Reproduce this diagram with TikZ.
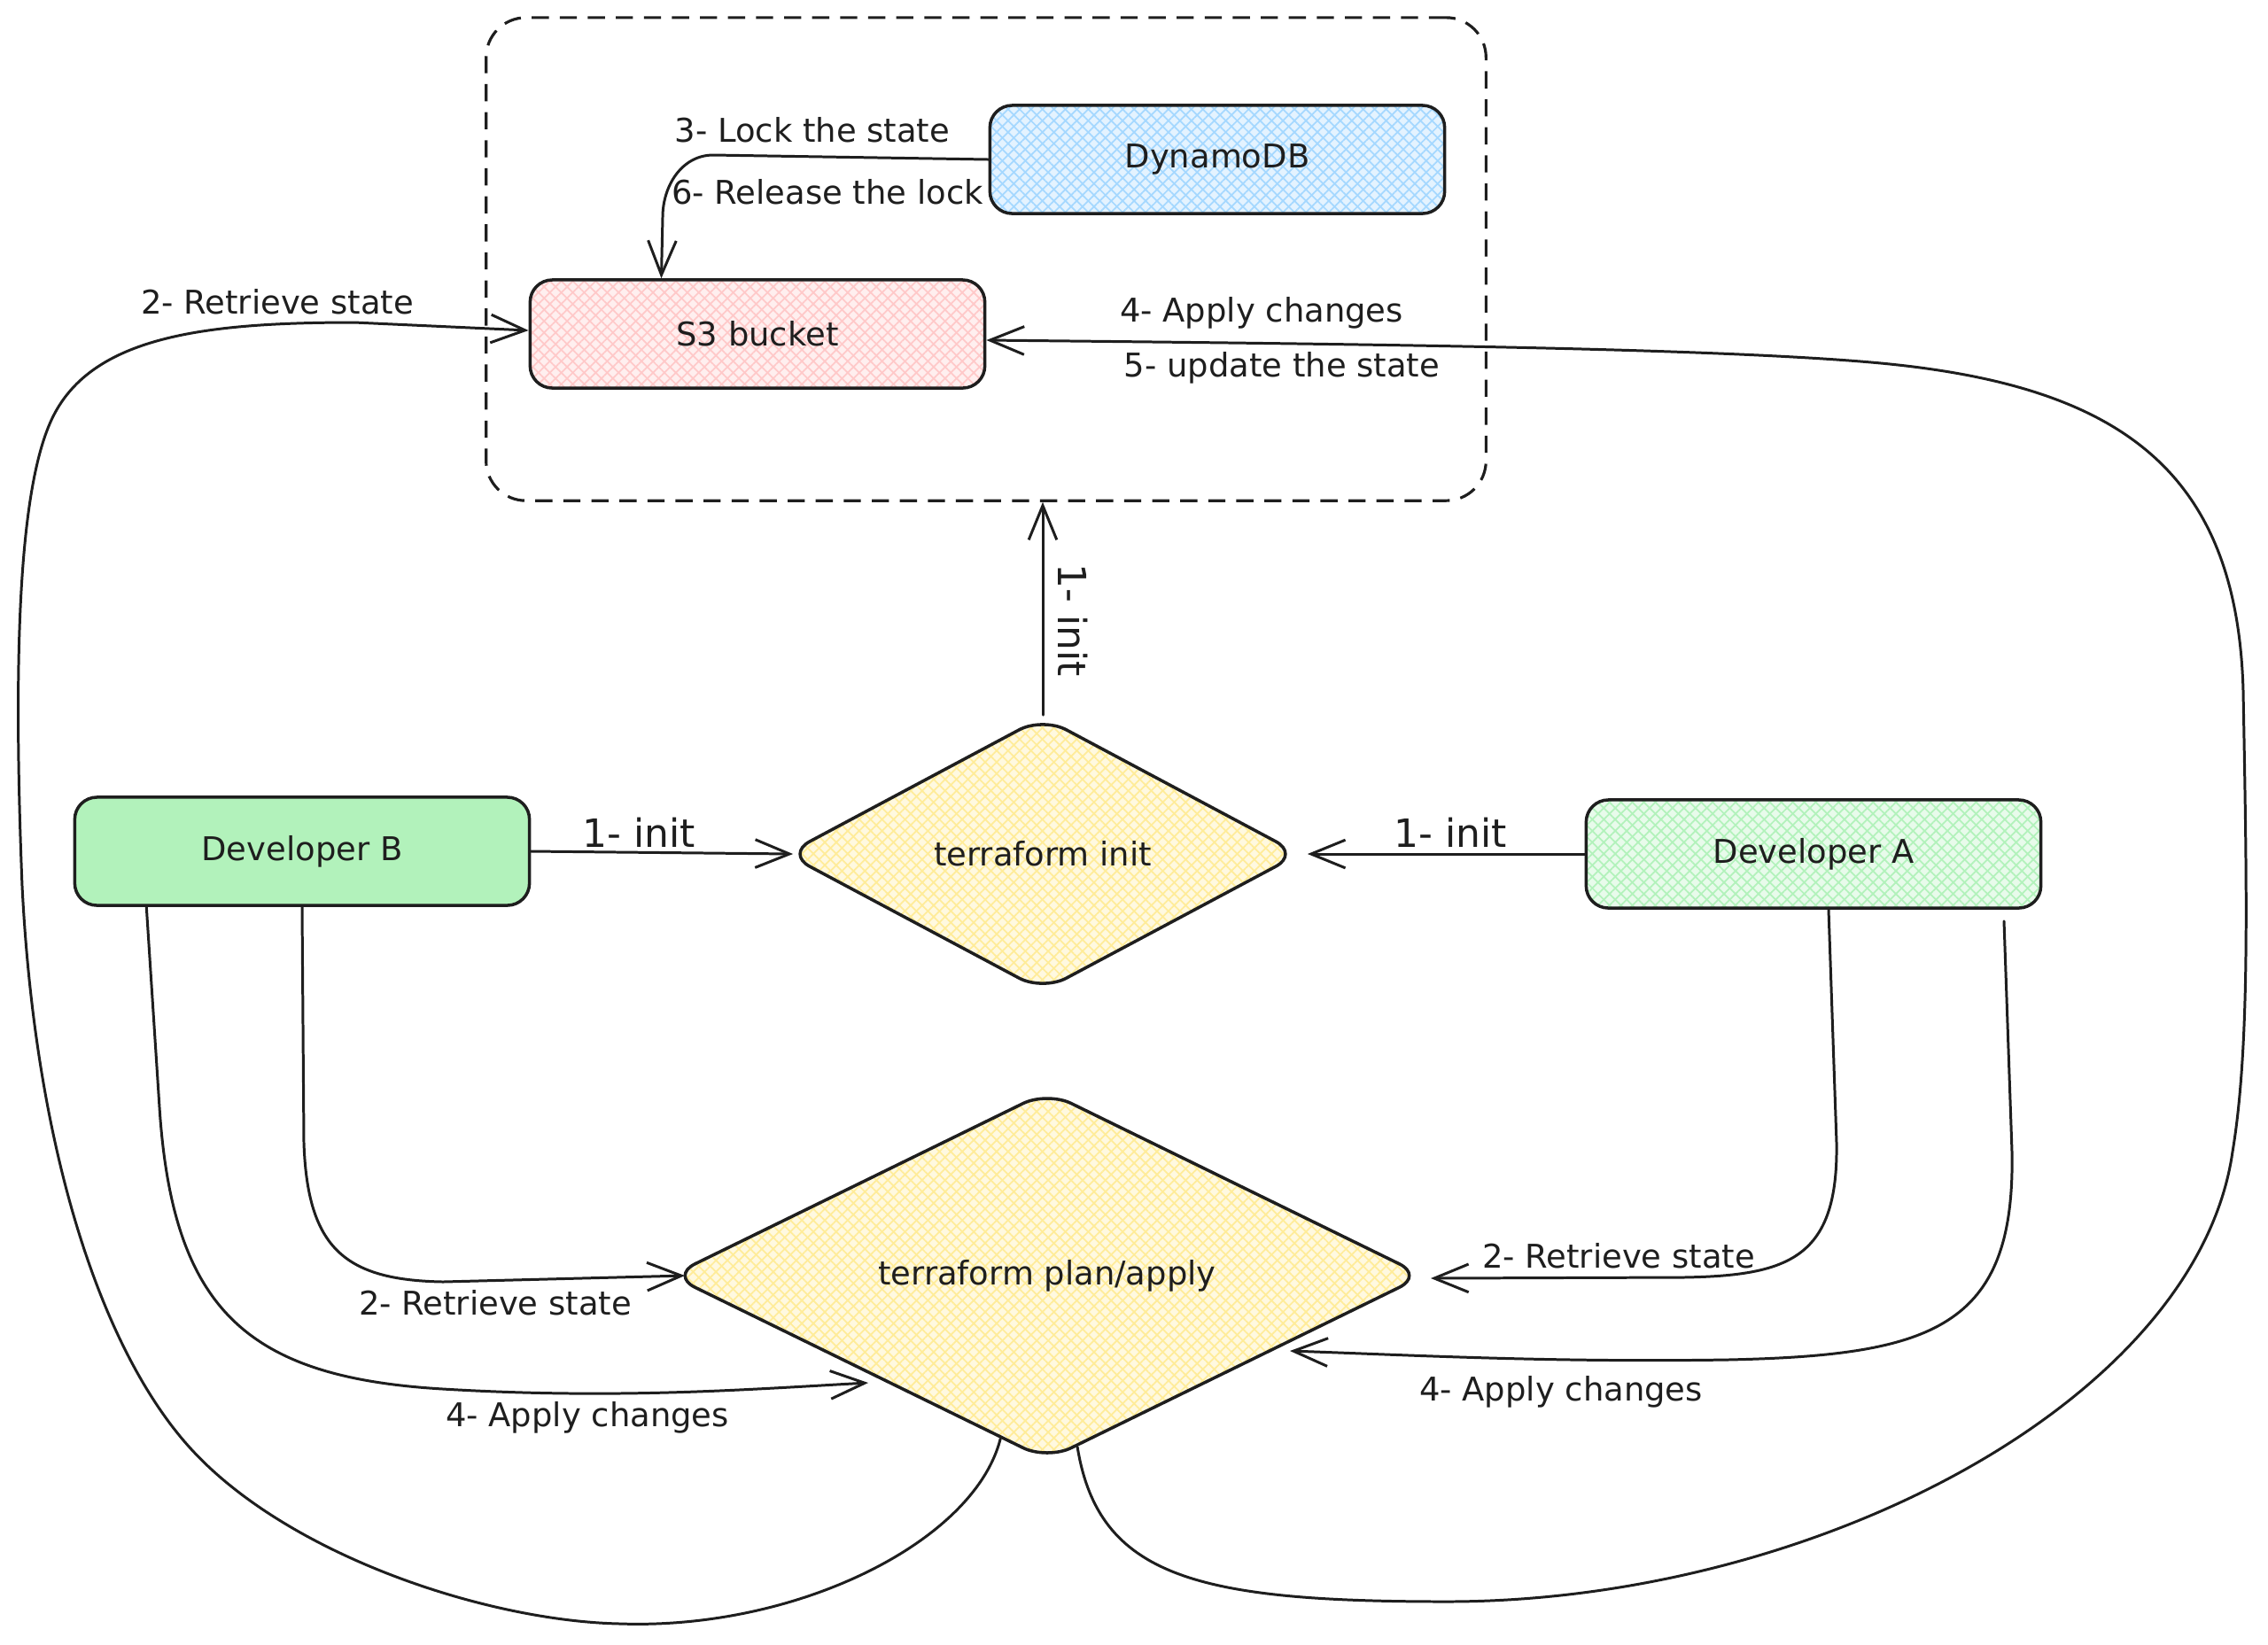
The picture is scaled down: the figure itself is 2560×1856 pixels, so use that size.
\documentclass[tikz,border=0pt]{standalone}
\usepackage{fontspec}
\setmainfont{DejaVu Sans}
\usetikzlibrary{arrows.meta,shapes.geometric,patterns.meta,calc}
\definecolor{ink}{HTML}{1E1E1E}
\definecolor{cblue}{HTML}{A5D8FF}
\definecolor{cred}{HTML}{FFC9C9}
\definecolor{cgreen}{HTML}{B2F2BB}
\definecolor{cyellow}{HTML}{FFEC99}
\newcommand{\txtfont}{\fontsize{10.5pt}{12pt}\selectfont}
\newcommand{\initfont}{\fontsize{12.5pt}{14pt}\selectfont}
\begin{document}
\begin{tikzpicture}[x=0.01cm,y=-0.01cm,
  hatch/.style={preaction={fill=#1!30},
    preaction={pattern={Lines[angle=45,distance=2.6pt,line width=0.5pt]},pattern color=#1},
    preaction={pattern={Lines[angle=-45,distance=2.6pt,line width=0.5pt]},pattern color=#1}},
  box/.style={draw=ink,line width=1pt,rounded corners=0.25cm,minimum width=5.13cm,minimum height=1.22cm,inner sep=0pt,font=\txtfont,text=ink},
  dia/.style={diamond,draw=ink,line width=1pt,rounded corners=0.3cm,inner sep=0pt,font=\txtfont,text=ink},
  grpbox/.style={draw=ink,line width=0.9pt,dash pattern=on 5.5pt off 3.5pt,rounded corners=0.45cm,minimum width=11.28cm,minimum height=5.45cm},
  conn/.style={draw=ink,line width=0.85pt,line join=round,line cap=round,-{Straight Barb[length=11pt,width=9pt]}},
  lbl/.style={font=\txtfont,text=ink,inner sep=1pt},
  initlbl/.style={font=\initfont,text=ink,inner sep=1pt},
]
\useasboundingbox (0,0) rectangle (2560,1856);
\fill[white] (0,0) rectangle (2560,1856);

% group container
\node[grpbox] (grp) at (1113,292.5) {};

% nodes
\node[box,hatch=cblue] (dyn) at (1374,180) {DynamoDB};
\node[box,hatch=cred] (s3) at (855,377) {S3 bucket};
\node[box,fill=cgreen] (devB) at (341,961) {Developer B};
\node[box,hatch=cgreen] (devA) at (2047,964) {Developer A};
\node[dia,hatch=cyellow,minimum width=5.8cm,minimum height=3.1cm] (init) at (1177,964) {terraform init};
\node[dia,hatch=cyellow,minimum width=8.5cm,minimum height=3.98cm] (plan) at (1182,1440) {terraform plan/apply};

% connectors
\draw[conn] (dyn.west) -- (805,175) to[out=180,in=90] (748,245) -- ($(s3.north west)!0.29!(s3.north east)$);

\draw[conn] (init.north) -- (init.north |- grp.south);
\draw[conn] (devB.east) -- ($(init.west)+(10,0)$);
\draw[conn] (devA.west) -- ($(init.east)+(7,0)$);

% plan -> S3 (left, 2- Retrieve state)
\draw[conn] (plan.-106)
  .. controls (1100,1740) and (900,1840) .. (700,1833)
  .. controls (550,1830) and (325,1756) .. (215,1635)
  .. controls (115,1525) and (40,1300) .. (25,1000)
  .. controls (15,750) and (20,550) .. (60,470)
  .. controls (105,380) and (230,364) .. (400,364)
  -- ($(s3.west)+(0,-4)$);

% plan -> S3 (right, 4- Apply changes / 5- update the state)
\draw[conn] (plan.-80)
  .. controls (1240,1780) and (1350,1808) .. (1633,1808)
  .. controls (2050,1808) and (2480,1580) .. (2520,1300)
  .. controls (2540,1180) and (2536,1000) .. (2532,780)
  .. controls (2525,520) and (2380,430) .. (2100,408)
  .. controls (1900,392) and (1500,388) .. ($(s3.east)+(0,7)$);

% Developer B -> plan (2- Retrieve state)
\draw[conn] (devB.south) -- (343,1290)
  .. controls (347,1410) and (390,1445) .. (500,1447)
  -- ($(plan.west)+(18,0)$);

% Developer B -> plan (4- Apply changes)
\draw[conn] ($(devB.south west)!0.16!(devB.south east)$) -- (180,1250)
  .. controls (195,1480) and (280,1555) .. (500,1568)
  .. controls (700,1580) and (850,1568) .. ($(plan.center)+(-202,121)$);

% Developer A -> plan (2- Retrieve state)
\draw[conn] ($(devA.south)+(17,0)$) -- (2073,1290)
  .. controls (2075,1420) and (2020,1440) .. (1900,1442)
  -- ($(plan.east)+(6,3)$);

% Developer A -> plan (4- Apply changes)
\draw[conn] ($(devA.south)+(215,13)$) -- (2271,1300)
  .. controls (2275,1500) and (2180,1530) .. (1950,1535)
  .. controls (1750,1538) and (1600,1530) .. ($(plan.center)+(274,85)$);

% labels
\node[lbl] (l1) at (917,147) {3- Lock the state};
\node[lbl] (l2) at (934,217) {6- Release the lock};
\node[lbl] (l3) at (313,341) {2- Retrieve state};
\node[lbl] (l4) at (1424,353) {4- Apply changes};
\node[lbl] (l5) at (1447,415) {5- update the state};
\node[initlbl] (l6) at (721,940) {1- init};
\node[initlbl] (l7) at (1637,940) {1- init};
\node[initlbl,rotate=-90] (l8) at (1211,700) {1- init};
\node[lbl] (l9) at (559,1471) {2- Retrieve state};
\node[lbl] (l10) at (663,1600) {4- Apply changes};
\node[lbl] (l11) at (1827,1418) {2- Retrieve state};
\node[lbl] (l12) at (1762,1571) {4- Apply changes};
\end{tikzpicture}
\end{document}
